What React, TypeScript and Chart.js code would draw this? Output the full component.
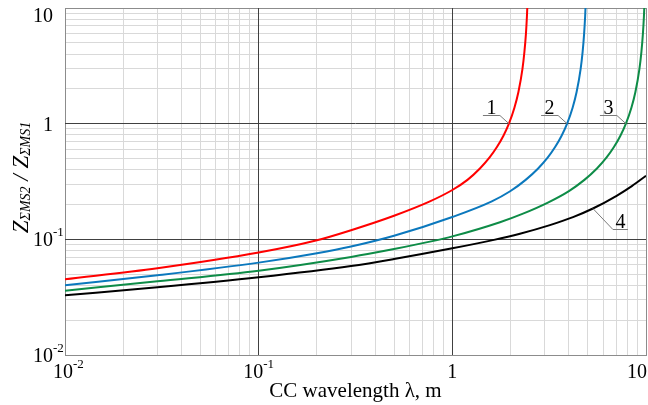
import React, { useEffect, useRef } from 'react';
import { Chart, registerables } from 'chart.js';

Chart.register(...registerables);

// ---- data ----
const wavelength1 = [0.01, 0.03, 0.1, 0.195, 0.3, 0.5, 0.766, 1.0, 1.197, 1.388, 1.554, 1.699, 1.836, 1.96, 2.092, 2.194, 2.301, 2.356, 2.399, 2.427, 2.447];
const ratio1 = [0.0451, 0.0562, 0.0768, 0.0971, 0.12, 0.16, 0.213, 0.267, 0.3267, 0.41, 0.508, 0.6275, 0.786, 1.0, 1.373, 1.876, 2.96, 4.17, 5.98, 8.4, 11.67];

const wavelength2 = [0.01, 0.03, 0.1, 0.2, 0.3, 0.5, 1.0, 1.599, 1.988, 2.391, 2.773, 3.105, 3.394, 3.666, 3.914, 4.179, 4.382, 4.596, 4.707, 4.791, 4.849, 4.889];
const ratio2 = [0.0401, 0.0489, 0.0629, 0.0759, 0.0868, 0.1075, 0.156, 0.213, 0.2603, 0.3267, 0.41, 0.508, 0.6275, 0.786, 1.0, 1.373, 1.876, 2.96, 4.17, 5.98, 8.4, 11.67];

const wavelength3 = [0.01, 0.03, 0.1, 0.3, 0.5, 0.8, 1.0, 1.762, 2.3, 3.115, 4.0, 4.808, 5.579, 6.246, 6.829, 7.376, 7.874, 8.406, 8.816, 9.245, 9.469, 9.638, 9.754, 9.835];
const ratio3 = [0.036, 0.0434, 0.0536, 0.0705, 0.0825, 0.097, 0.106, 0.1407, 0.166, 0.208, 0.2615, 0.3267, 0.41, 0.508, 0.6275, 0.786, 1.0, 1.373, 1.876, 2.96, 4.17, 5.98, 8.4, 11.67];

const wavelength4 = [0.01, 0.03, 0.1, 0.3, 0.5, 1.0, 1.64, 2.234, 3.19, 4.2, 5.32, 7.05, 8.45, 10];
const ratio4 = [0.0328, 0.0385, 0.047, 0.0588, 0.0676, 0.0836, 0.0989, 0.1119, 0.1328, 0.1557, 0.1847, 0.2379, 0.2884, 0.354];

const seriesNames = ['1', '2', '3', '4'];
const seriesColors = ['#ff0000', '#0b78bd', '#0e8c47', '#000000'];

// curve label anchors (points on the curves where leader lines start)
const labelAnchorX = [1.96, 3.914, 7.874, 5.32];
const labelAnchorY = [1.0, 1.0, 1.0, 0.1847];

// axes
const axisMin = 0.01;
const axisMax = 10;
const decadeValues = [0.01, 0.1, 1, 10];
const xTickBase = ['10', '10', '1', '10'];
const xTickSup = ['-2', '-1', '', ''];
const yTickBase = ['10', '10', '1', '10'];
const yTickSup = ['-2', '-1', '', ''];
const minorMultipliers = [1, 2, 3, 4, 5, 6, 7, 8, 9];

const xTitle = 'CC wavelength λ, m';

const SERIF = '"Liberation Serif", "Times New Roman", serif';
const MAJOR = '#404040';
const MINOR = '#d9d9d9';
const EDGE = '#8c8c8c';

const gridValues: number[] = [];
decadeValues.slice(0, 3).forEach((d) => minorMultipliers.forEach((m) => gridValues.push(+(m * d).toPrecision(6))));
gridValues.push(axisMax);

const isDecade = (v: number) => {
  const l = Math.log10(v);
  return Math.abs(l - Math.round(l)) < 1e-6;
};

const isEdge = (v: number) => Math.abs(v - axisMin) < 1e-9 || Math.abs(v - axisMax) < 1e-9;

const gridColor = (c: any) => {
  const v = c.tick ? c.tick.value : undefined;
  if (v === undefined) return MINOR;
  if (isEdge(v)) return EDGE;
  return isDecade(v) ? 'rgba(0,0,0,0)' : MINOR;
};

const align = (p: number) => Math.round(p - 0.5) + 0.5;

// draw the inner decade lines on top of the minor grid
const majorGridPlugin = {
  id: 'majorGrid',
  beforeDatasetsDraw(chart: any) {
    const { ctx, chartArea, scales } = chart;
    ctx.save();
    ctx.strokeStyle = MAJOR;
    ctx.lineWidth = 1;
    decadeValues.forEach((v) => {
      if (isEdge(v)) return;
      const px = align(scales.x.getPixelForValue(v));
      const py = align(scales.y.getPixelForValue(v));
      ctx.beginPath();
      ctx.moveTo(px, chartArea.top);
      ctx.lineTo(px, chartArea.bottom);
      ctx.moveTo(chartArea.left, py);
      ctx.lineTo(chartArea.right, py);
      ctx.stroke();
    });
    ctx.restore();
  },
};

const textPlugin = {
  id: 'textPlugin',
  afterDraw(chart: any) {
    const { ctx, chartArea, scales } = chart;
    const xs = scales.x;
    const ys = scales.y;
    ctx.save();
    ctx.fillStyle = '#000';
    ctx.textBaseline = 'alphabetic';
    ctx.textAlign = 'left';

    // y tick labels
    decadeValues.forEach((v, i) => {
      const py = ys.getPixelForValue(v);
      const baseline = Math.max(py + 7, chartArea.top + 14);
      ctx.font = `20px ${SERIF}`;
      const wb = ctx.measureText(yTickBase[i]).width;
      const right = chartArea.left - 12;
      ctx.fillText(yTickBase[i], right - wb, baseline);
      if (yTickSup[i]) {
        ctx.font = `13px ${SERIF}`;
        ctx.fillText(yTickSup[i], right, baseline - 10);
      }
    });

    // x tick labels
    decadeValues.forEach((v, i) => {
      const px = xs.getPixelForValue(v);
      ctx.font = `20px ${SERIF}`;
      const wb = ctx.measureText(xTickBase[i]).width;
      ctx.font = `13px ${SERIF}`;
      const ws = xTickSup[i] ? ctx.measureText(xTickSup[i]).width : 0;
      let left = px - (wb + ws) / 2;
      left = Math.max(left, chartArea.left - 12);
      left = Math.min(left, chart.width - 1 - (wb + ws));
      const baseline = chartArea.bottom + 23;
      ctx.font = `20px ${SERIF}`;
      ctx.fillText(xTickBase[i], left, baseline);
      if (xTickSup[i]) {
        ctx.font = `13px ${SERIF}`;
        ctx.fillText(xTickSup[i], left + wb, baseline - 10);
      }
    });

    // x title
    ctx.font = `21px ${SERIF}`;
    ctx.textAlign = 'center';
    ctx.fillText(xTitle, (chartArea.left + chartArea.right) / 2, chartArea.bottom + 42);

    // y title with subscripts
    const parts = [
      { t: 'Z', s: 23, dy: 0 },
      { t: 'ΣMS2', s: 14, dy: 2 },
      { t: ' / ', s: 23, dy: 0 },
      { t: 'Z', s: 23, dy: 0 },
      { t: 'ΣMS1', s: 14, dy: 2 },
    ];
    ctx.textAlign = 'left';
    let total = 0;
    parts.forEach((p) => {
      ctx.font = `italic ${p.s}px ${SERIF}`;
      total += ctx.measureText(p.t).width;
    });
    ctx.save();
    ctx.translate(chartArea.left - 37, (chartArea.top + chartArea.bottom) / 2 - 4);
    ctx.rotate(-Math.PI / 2);
    let cx = -total / 2;
    parts.forEach((p) => {
      ctx.font = `italic ${p.s}px ${SERIF}`;
      ctx.fillText(p.t, cx, p.dy);
      cx += ctx.measureText(p.t).width;
    });
    ctx.restore();

    // curve labels with leader lines
    ctx.font = `20px ${SERIF}`;
    ctx.textAlign = 'center';
    ctx.strokeStyle = '#7a7a7a';
    ctx.lineWidth = 1;
    seriesNames.forEach((name, i) => {
      const ax = xs.getPixelForValue(labelAnchorX[i]);
      const ay = ys.getPixelForValue(labelAnchorY[i]);
      let ex: number, ey: number, ux: number;
      if (i < 3) {
        ex = ax - 9; ey = ay - 9; ux = ex - 17;
      } else {
        ex = ax + 20; ey = ay + 20; ux = ex + 15;
      }
      ey = Math.round(ey) + 0.5;
      ctx.beginPath();
      ctx.moveTo(ax, ay);
      ctx.lineTo(ex, ey);
      ctx.lineTo(ux, ey);
      ctx.stroke();
      ctx.fillText(name, (ex + ux) / 2, ey - 2);
    });

    ctx.restore();
  },
};

export default function App() {
  const canvasRef = useRef<HTMLCanvasElement | null>(null);

  useEffect(() => {
    document.body.style.margin = '0';
    const canvas = canvasRef.current;
    if (!canvas) return;
    const xsArr = [wavelength1, wavelength2, wavelength3, wavelength4];
    const ysArr = [ratio1, ratio2, ratio3, ratio4];
    const chart = new Chart(canvas, {
      type: 'line',
      data: {
        datasets: seriesNames.map((name, i) => ({
          label: name,
          data: xsArr[i].map((x, j) => ({ x, y: ysArr[i][j] })),
          borderColor: seriesColors[i],
          backgroundColor: seriesColors[i],
          borderWidth: 2,
          pointRadius: 0,
          fill: false,
          cubicInterpolationMode: 'monotone' as const,
        })),
      },
      options: {
        responsive: false,
        animation: false,
        layout: { padding: { top: 8, right: 2, bottom: 0, left: 0 } },
        plugins: { legend: { display: false }, tooltip: { enabled: false }, title: { display: false } },
        scales: {
          x: {
            type: 'logarithmic',
            min: axisMin,
            max: axisMax,
            afterBuildTicks: (scale: any) => {
              scale.ticks = gridValues.map((v) => ({ value: v }));
            },
            afterFit: (scale: any) => {
              scale.height = 50;
              scale.paddingLeft = 0;
              scale.paddingRight = 0;
            },
            ticks: { display: false },
            grid: { color: gridColor, lineWidth: 1, drawTicks: false },
            border: { display: true, color: EDGE, width: 1 },
          },
          y: {
            type: 'logarithmic',
            min: axisMin,
            max: axisMax,
            afterBuildTicks: (scale: any) => {
              scale.ticks = gridValues.map((v) => ({ value: v }));
            },
            afterFit: (scale: any) => {
              scale.width = 65;
              scale.paddingTop = 0;
              scale.paddingBottom = 0;
            },
            ticks: { display: false },
            grid: { color: gridColor, lineWidth: 1, drawTicks: false },
            border: { display: true, color: EDGE, width: 1 },
          },
        },
      },
      plugins: [majorGridPlugin, textPlugin],
    });
    return () => chart.destroy();
  }, []);

  return (
    <div style={{ width: 648, height: 405, background: '#fff' }}>
      <canvas ref={canvasRef} width={648} height={405} style={{ display: 'block' }} />
    </div>
  );
}
